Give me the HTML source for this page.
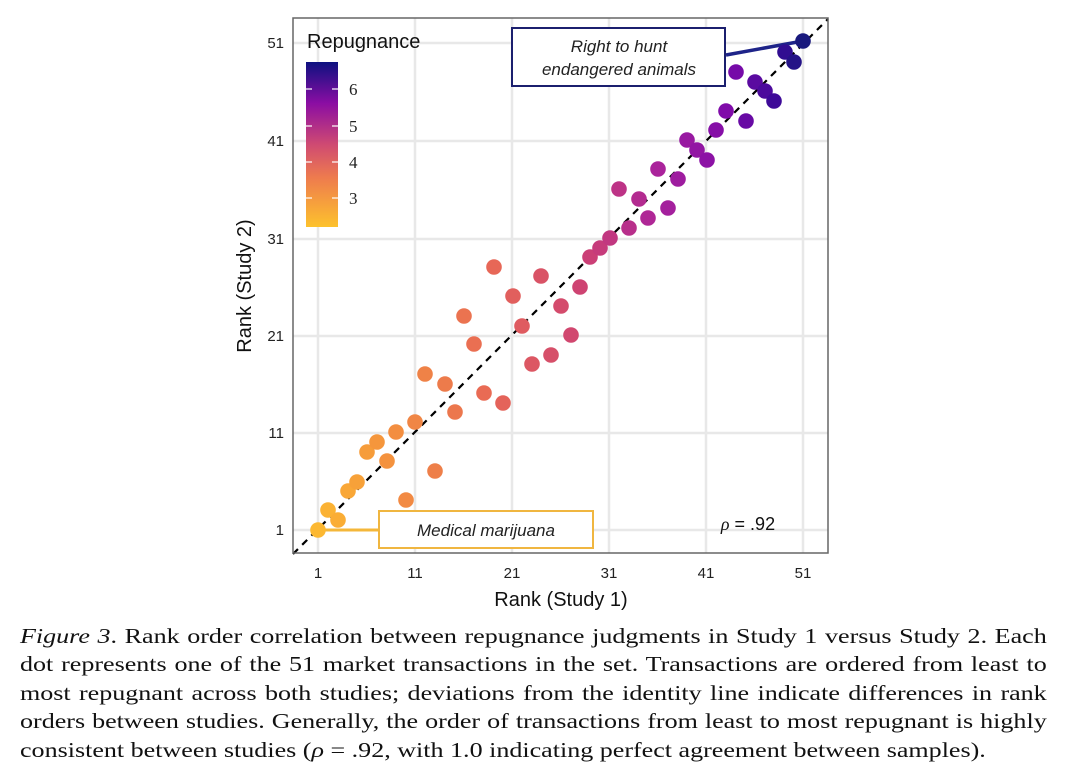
<!DOCTYPE html>
<html><head><meta charset="utf-8"><style>
body{margin:0;background:#fff;width:1068px;height:780px;overflow:hidden;position:relative}
.cap{position:absolute;left:20px;width:828px;transform-origin:0 0;transform:scaleX(1.24);font-family:"Liberation Serif",serif;font-size:21px;line-height:28.4px;top:622px;color:#111}
.cap div{text-align:justify;text-align-last:justify;white-space:nowrap}
.cap div.l{text-align-last:left}
</style></head><body>
<svg width="1068" height="620" style="position:absolute;left:0;top:0" font-family="Liberation Sans, sans-serif">
<defs><linearGradient id="g" x1="0" y1="1" x2="0" y2="0">
<stop offset="0" stop-color="#fdc22d"/><stop offset="0.3" stop-color="#ee7b4e"/><stop offset="0.5" stop-color="#cf4a72"/><stop offset="0.75" stop-color="#8b0da3"/><stop offset="1" stop-color="#0d1180"/></linearGradient></defs>
<g stroke="#e8e8e8" stroke-width="2.5">
<line x1="318" y1="18" x2="318" y2="553"/><line x1="415" y1="18" x2="415" y2="553"/><line x1="512" y1="18" x2="512" y2="553"/><line x1="609" y1="18" x2="609" y2="553"/><line x1="706" y1="18" x2="706" y2="553"/><line x1="803" y1="18" x2="803" y2="553"/>
<line x1="293" y1="530" x2="828" y2="530"/><line x1="293" y1="433" x2="828" y2="433"/><line x1="293" y1="336" x2="828" y2="336"/><line x1="293" y1="239" x2="828" y2="239"/><line x1="293" y1="141" x2="828" y2="141"/><line x1="293" y1="43" x2="828" y2="43"/>
</g>
<line x1="293" y1="554" x2="828" y2="19" stroke="#000" stroke-width="2.2" stroke-dasharray="7,6"/>
<line x1="318" y1="530" x2="379" y2="530" stroke="#f4b73a" stroke-width="3"/>
<line x1="726" y1="55" x2="803" y2="41" stroke="#1e2489" stroke-width="3.5"/>
<g id="pts"></g>
<rect x="379" y="511" width="214" height="37" fill="#fff" stroke="#f0b640" stroke-width="2"/>
<text x="486" y="536" text-anchor="middle" font-size="17" font-style="italic" fill="#222">Medical marijuana</text>
<rect x="512" y="28" width="213" height="58" fill="#fff" stroke="#1b1f6e" stroke-width="2"/>
<text x="619" y="52" text-anchor="middle" font-size="17" font-style="italic" fill="#222">Right to hunt</text>
<text x="619" y="75" text-anchor="middle" font-size="17" font-style="italic" fill="#222">endangered animals</text>
<text x="748" y="530" text-anchor="middle" font-size="18" fill="#111"><tspan font-style="italic" font-family="Liberation Serif">ρ</tspan> = .92</text>
<rect x="293" y="18" width="535" height="535" fill="none" stroke="#666" stroke-width="1.5"/>
<text x="307" y="48" font-size="20" fill="#111">Repugnance</text>
<rect x="306" y="62" width="32" height="165" fill="url(#g)"/>
<g stroke="#fff" stroke-width="1.2"><line x1="306" y1="89" x2="312" y2="89"/><line x1="332" y1="89" x2="338" y2="89"/><line x1="306" y1="126" x2="312" y2="126"/><line x1="332" y1="126" x2="338" y2="126"/><line x1="306" y1="162" x2="312" y2="162"/><line x1="332" y1="162" x2="338" y2="162"/><line x1="306" y1="198" x2="312" y2="198"/><line x1="332" y1="198" x2="338" y2="198"/></g>
<g font-size="17" font-family="Liberation Serif" fill="#222"><text x="349" y="95">6</text><text x="349" y="132">5</text><text x="349" y="168">4</text><text x="349" y="204">3</text></g>
<g font-size="15" fill="#222" text-anchor="end"><text x="284" y="535">1</text><text x="284" y="438">11</text><text x="284" y="341">21</text><text x="284" y="244">31</text><text x="284" y="146">41</text><text x="284" y="48">51</text></g>
<g font-size="15" fill="#222" text-anchor="middle"><text x="318" y="578">1</text><text x="415" y="578">11</text><text x="512" y="578">21</text><text x="609" y="578">31</text><text x="706" y="578">41</text><text x="803" y="578">51</text></g>
<text x="561" y="606" text-anchor="middle" font-size="20" fill="#111">Rank (Study 1)</text>
<text transform="translate(251,286) rotate(-90)" text-anchor="middle" font-size="20" fill="#111">Rank (Study 2)</text>
</svg>
<div class="cap">
<div><i>Figure 3</i>. Rank order correlation between repugnance judgments in Study 1 versus Study 2. Each</div>
<div>dot represents one of the 51 market transactions in the set. Transactions are ordered from least to</div>
<div>most repugnant across both studies; deviations from the identity line indicate differences in rank</div>
<div>orders between studies. Generally, the order of transactions from least to most repugnant is highly</div>
<div class="l">consistent between studies (<i>ρ</i> = .92, with 1.0 indicating perfect agreement between samples).</div>
</div>
<script>
var p=[[318,530],[328,510],[338,520],[348,491],[357,482],[367,452],[377,442],[387,461],[396,432],[406,500],[415,422],[425,374],[435,471],[445,384],[455,412],[464,316],[474,344],[484,393],[494,267],[503,403],[513,296],[522,326],[532,364],[541,276],[551,355],[561,306],[571,335],[580,287],[590,257],[600,248],[610,238],[619,189],[629,228],[639,199],[648,218],[658,169],[668,208],[678,179],[687,140],[697,150],[707,160],[716,130],[726,111],[736,72],[746,121],[755,82],[765,91],[774,101],[785,52],[794,62],[803,41]];
var st=[[0,[252,184,50]],[0.12,[245,150,60]],[0.35,[232,105,85]],[0.55,[205,65,115]],[0.7,[170,35,155]],[0.85,[125,10,170]],[0.95,[55,10,150]],[1,[25,25,125]]];
function col(t){for(var i=1;i<st.length;i++){if(t<=st[i][0]){var a=st[i-1],b=st[i],f=(t-a[0])/(b[0]-a[0]);return 'rgb('+a[1].map(function(v,k){return Math.round(v+(b[1][k]-v)*f)}).join(',')+')';}}}
var s='';p.forEach(function(q,i){s+='<circle cx="'+q[0]+'" cy="'+q[1]+'" r="7.8" fill="'+col(i/50)+'"/>';});
document.getElementById('pts').innerHTML=s;
</script>
</body></html>
